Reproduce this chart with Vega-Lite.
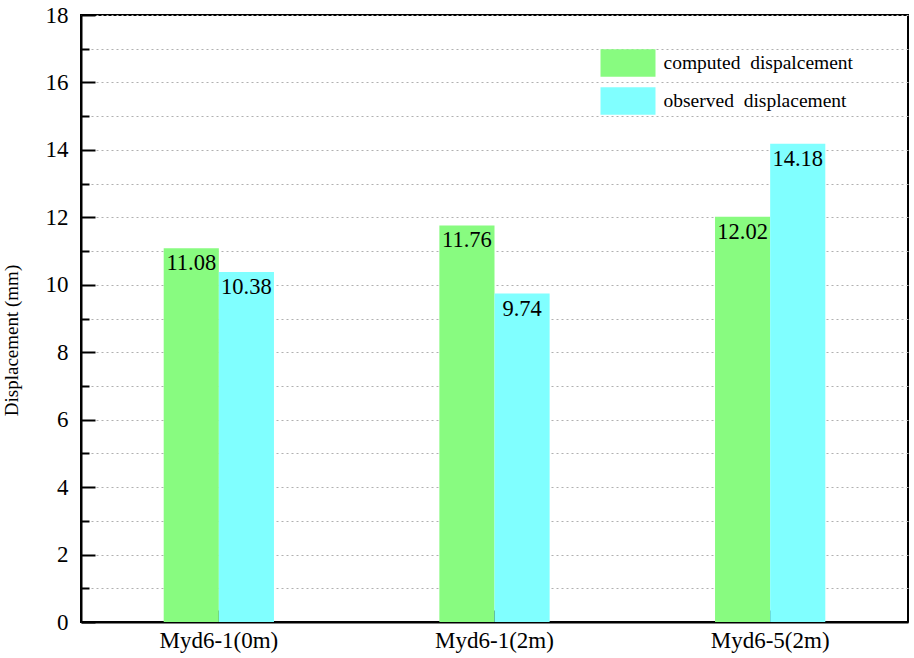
{
  "$schema": "https://vega.github.io/schema/vega-lite/v6.json",
  "width": 827,
  "height": 607,
  "autosize": {"type": "none"},
  "padding": {"left": 81, "top": 15, "right": 6, "bottom": 36},
  "background": "white",
  "config": {
    "view": {"stroke": "black", "strokeWidth": 2},
    "font": "Liberation Serif, Times New Roman, serif"
  },
  "data": {
    "values": [
      {"site": "Myd6-1(0m)", "type": "computed \u00a0dispalcement", "value": 11.08},
      {"site": "Myd6-1(0m)", "type": "observed \u00a0displacement", "value": 10.38},
      {"site": "Myd6-1(2m)", "type": "computed \u00a0dispalcement", "value": 11.76},
      {"site": "Myd6-1(2m)", "type": "observed \u00a0displacement", "value": 9.74},
      {"site": "Myd6-5(2m)", "type": "computed \u00a0dispalcement", "value": 12.02},
      {"site": "Myd6-5(2m)", "type": "observed \u00a0displacement", "value": 14.18}
    ]
  },
  "encoding": {
    "x": {
      "field": "site",
      "type": "nominal",
      "sort": null,
      "scale": {"paddingInner": 0.6, "paddingOuter": 0.3},
      "axis": {
        "title": null,
        "labelAngle": 0,
        "labelFont": "Liberation Serif, Times New Roman, serif",
        "labelFontSize": 23,
        "labelColor": "#000",
        "labelPadding": 19,
        "tickSize": -12,
        "tickColor": "#000",
        "tickWidth": 2,
        "domainColor": "#000",
        "domainWidth": 2,
        "grid": false
      }
    },
    "xOffset": {
      "field": "type",
      "type": "nominal",
      "sort": ["computed \u00a0dispalcement", "observed \u00a0displacement"],
      "scale": {"paddingInner": 0, "paddingOuter": 0}
    },
    "y": {
      "field": "value",
      "type": "quantitative",
      "scale": {"domain": [0, 18], "nice": false, "zero": true},
      "axis": {
        "title": "Displacement (mm)",
        "titleFont": "Liberation Serif, Times New Roman, serif",
        "titleFontSize": 19,
        "titleFontWeight": "normal",
        "titleColor": "#000",
        "titlePadding": 24,
        "titleY": 325,
        "values": [0,1,2,3,4,5,6,7,8,9,10,11,12,13,14,15,16,17,18],
        "labelExpr": "datum.value % 2 === 0 ? datum.label : ''",
        "labelFont": "Liberation Serif, Times New Roman, serif",
        "labelFontSize": 23,
        "labelColor": "#000",
        "labelPadding": 27,
        "tickSize": {"condition": {"test": "datum.value % 2 === 0", "value": -14}, "value": -8},
        "tickColor": "#000",
        "tickWidth": 2,
        "domainColor": "#000",
        "domainWidth": 2,
        "grid": true,
        "gridDash": [2, 3],
        "gridColor": "#b0b0b0",
        "gridWidth": 1
      }
    }
  },
  "layer": [
    {
      "mark": {"type": "bar"},
      "encoding": {
        "color": {
          "field": "type",
          "type": "nominal",
          "scale": {
            "domain": ["computed \u00a0dispalcement", "observed \u00a0displacement"],
            "range": ["#88fb80", "#80ffff"]
          },
          "legend": {
            "title": null,
            "orient": "none",
            "legendX": 533,
            "legendY": 34,
            "direction": "vertical",
            "padding": 0,
            "symbolType": "M-2,-1H2V1H-2Z",
            "symbolSize": 756,
            "symbolStrokeWidth": 0,
            "symbolOpacity": 1,
            "labelFont": "Liberation Serif, Times New Roman, serif",
            "labelFontSize": 19.5,
            "labelColor": "#000",
            "labelOffset": 21.5,
            "rowPadding": 10,
            "labelLimit": 400
          }
        }
      }
    },
    {
      "mark": {"type": "text", "baseline": "top", "dy": 4, "fontSize": 22.5, "font": "Liberation Serif, Times New Roman, serif", "color": "#000"},
      "encoding": {
        "text": {"field": "value", "type": "quantitative", "format": ".2f"}
      }
    }
  ]
}
